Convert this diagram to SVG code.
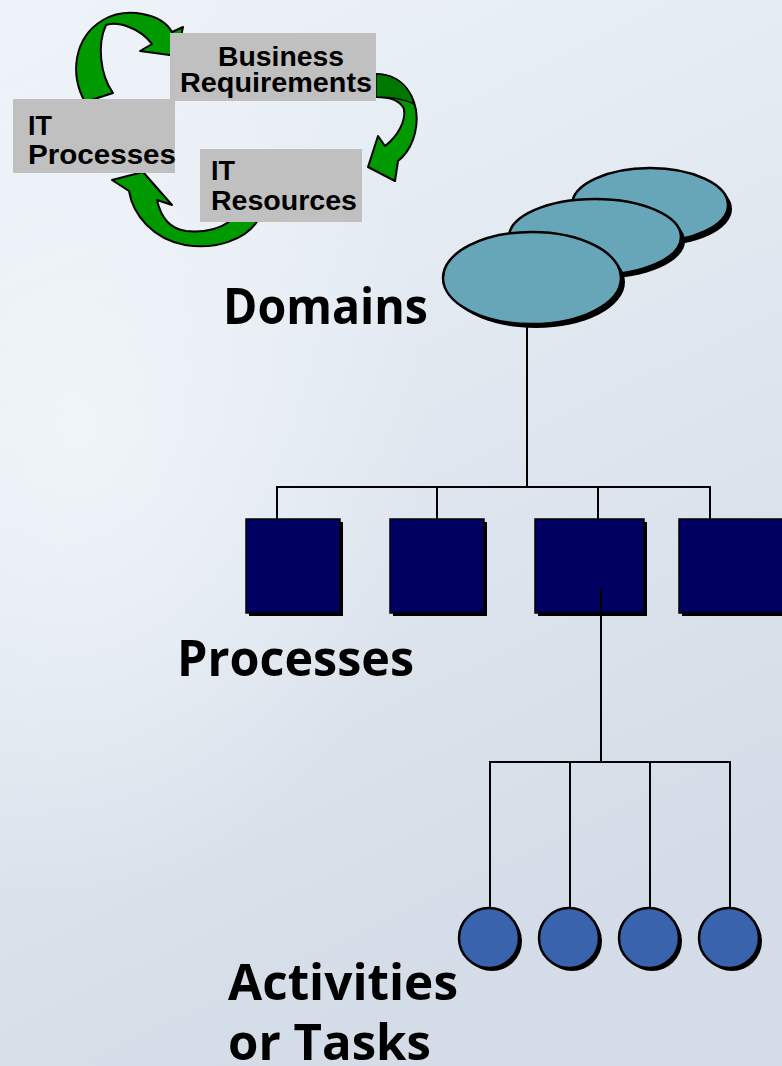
<svg xmlns="http://www.w3.org/2000/svg" width="782" height="1066" viewBox="0 0 782 1066">
  <defs>
    <linearGradient id="bg" x1="0" y1="0" x2="0.35" y2="1">
      <stop offset="0" stop-color="#eef3f9"/>
      <stop offset="0.45" stop-color="#e2e9f1"/>
      <stop offset="1" stop-color="#d4dce7"/>
    </linearGradient>
    <radialGradient id="haze" cx="0.1" cy="0.4" r="0.45">
      <stop offset="0" stop-color="#f3f7fb" stop-opacity="0.8"/>
      <stop offset="1" stop-color="#f3f7fb" stop-opacity="0"/>
    </radialGradient>
    <style>
      .box { fill: #c0c0c0; }
      .small { font-family: "Liberation Sans", Arial, sans-serif; font-weight: bold; font-size: 27px; fill: #000; }
      .big { font-family: "Open Sans", "DejaVu Sans", sans-serif; font-weight: bold; font-size: 50px; fill: #000; }
      .arrow { fill: #009900; stroke: #000; stroke-width: 2; stroke-linejoin: round; }
      .twist { fill: #007700; stroke: #000; stroke-width: 1.5; }
      .shadow { fill: #000; }
      .domain { fill: #67a5b9; stroke: #000; stroke-width: 2.5; }
      .proc { fill: #000060; stroke: #000; stroke-width: 1.5; }
      .task { fill: #3a63ae; stroke: #000; stroke-width: 2.5; }
      .wire { fill: none; stroke: #000; stroke-width: 2; }
    </style>
  </defs>

  <!-- backdrop -->
  <rect width="782" height="1066" fill="url(#bg)"/>
  <rect width="782" height="1066" fill="url(#haze)"/>

  <!-- cycle of three curved arrows -->
  <g id="cycle-arrows">
    <path class="arrow" d="M 85,102 C 70,75 73,38 103,20 C 127,6 162,14 172,32 L 183,27 L 177,56 L 140,51 L 152,44 C 140,28 118,21 106,25 C 97,44 100,75 113,93 Z"/>
    <path class="arrow" d="M 376,74 C 396,74 412,88 416,110 C 419,131 411,151 398,161 L 395,181 L 368,167 L 378,136 L 385,146 C 398,136 406,121 404,109 C 400,100 390,97 376,97 Z"/>
    <path class="twist" d="M 376,74 C 396,74 410,86 414,104 C 406,100 392,97 376,97 Z"/>
    <path class="arrow" d="M 258,220 C 246,240 215,250 185,245 C 153,239 133,215 129,191 L 112,180 L 143,172 L 172,205 L 157,200 C 161,218 171,229 186,231 C 206,233 222,228 231,220 Z"/>
  </g>

  <!-- grey caption boxes of the cycle -->
  <g id="business-requirements">
    <rect class="box" x="170" y="33" width="206" height="68"/>
    <text class="small" x="281" y="66" text-anchor="middle" textLength="126" lengthAdjust="spacingAndGlyphs">Business</text>
    <text class="small" x="180" y="92" textLength="192" lengthAdjust="spacingAndGlyphs">Requirements</text>
  </g>
  <g id="it-processes">
    <rect class="box" x="13" y="99" width="162" height="74"/>
    <text class="small" x="28" y="135">IT</text>
    <text class="small" x="28" y="164" textLength="148" lengthAdjust="spacingAndGlyphs">Processes</text>
  </g>
  <g id="it-resources">
    <rect class="box" x="200" y="149" width="162" height="73"/>
    <text class="small" x="211" y="180">IT</text>
    <text class="small" x="211" y="210" textLength="146" lengthAdjust="spacingAndGlyphs">Resources</text>
  </g>

  <!-- tree connectors -->
  <g id="connectors">
    <path class="wire" d="M 527,322 V 487 M 277,520 V 487 H 710 V 520 M 437,487 V 520 M 598,487 V 520"/>
    <path class="wire" d="M 601,588 V 762 M 490,908 V 762 H 730 V 908 M 570,762 V 908 M 650,762 V 908"/>
  </g>

  <!-- domains: three stacked ellipses -->
  <g id="domains">
    <ellipse class="shadow" cx="654" cy="209" rx="78" ry="37"/>
    <ellipse class="domain" cx="650" cy="205" rx="78" ry="37"/>
    <ellipse class="shadow" cx="599" cy="241" rx="86" ry="38"/>
    <ellipse class="domain" cx="595" cy="237" rx="86" ry="38"/>
    <ellipse class="shadow" cx="536" cy="282" rx="89" ry="46"/>
    <ellipse class="domain" cx="532" cy="278" rx="89" ry="46"/>
    <text class="big" x="223" y="324" textLength="205" lengthAdjust="spacingAndGlyphs">Domains</text>
  </g>

  <!-- processes -->
  <g id="processes">
    <rect class="shadow" x="249" y="522" width="94" height="94"/>
    <rect class="proc" x="246" y="519" width="94" height="94"/>
    <rect class="shadow" x="393" y="522" width="94" height="94"/>
    <rect class="proc" x="390" y="519" width="94" height="94"/>
    <rect class="shadow" x="538" y="522" width="109" height="94"/>
    <rect class="proc" x="535" y="519" width="109" height="94"/>
    <rect class="shadow" x="682" y="522" width="110" height="94"/>
    <rect class="proc" x="679" y="519" width="110" height="94"/>
    <line class="wire" x1="601" y1="588" x2="601" y2="613"/>
    <text class="big" x="177" y="676" textLength="237" lengthAdjust="spacingAndGlyphs">Processes</text>
  </g>

  <!-- activities / tasks -->
  <g id="activities">
    <circle class="shadow" cx="492" cy="941" r="30"/>
    <circle class="task" cx="489" cy="938" r="30"/>
    <circle class="shadow" cx="572" cy="941" r="30"/>
    <circle class="task" cx="569" cy="938" r="30"/>
    <circle class="shadow" cx="652" cy="941" r="30"/>
    <circle class="task" cx="649" cy="938" r="30"/>
    <circle class="shadow" cx="732" cy="941" r="30"/>
    <circle class="task" cx="729" cy="938" r="30"/>
    <text class="big" x="228" y="1000" textLength="230" lengthAdjust="spacingAndGlyphs">Activities</text>
    <text class="big" x="228" y="1060" textLength="203" lengthAdjust="spacingAndGlyphs">or Tasks</text>
  </g>
</svg>
